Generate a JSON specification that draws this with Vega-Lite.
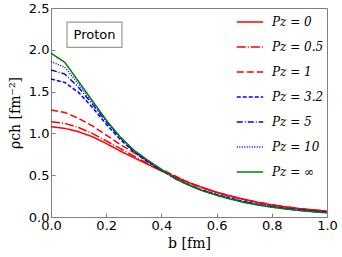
{
  "$schema": "https://vega.github.io/schema/vega-lite/v6.json",
  "width": 276,
  "height": 209,
  "autosize": "none",
  "padding": {"left": 51, "top": 8, "right": 15, "bottom": 40},
  "config": {
    "view": {"stroke": "#808080", "strokeWidth": 1},
    "axis": {"labelFont": "DejaVu Sans", "labelFontSize": 13, "labelColor": "black", "labelFlush": false, "domainColor": "#808080", "tickColor": "#808080", "tickSize": -4, "labelPadding": 6, "grid": false, "titleFont": "DejaVu Serif", "titleFontSize": 14, "titleFontWeight": "normal", "titleColor": "black"},
    "legend": {"labelFont": "DejaVu Serif", "labelFontStyle": "italic", "labelFontSize": 12, "labelColor": "black"}
  },
  "datasets": {
    "curves": [
      {"b":0.0,"v":1.08,"s":"Pz = 0"},{"b":0.05,"v":1.06,"s":"Pz = 0"},{"b":0.1,"v":1.02,"s":"Pz = 0"},{"b":0.15,"v":0.96,"s":"Pz = 0"},{"b":0.2,"v":0.88,"s":"Pz = 0"},{"b":0.25,"v":0.79,"s":"Pz = 0"},{"b":0.3,"v":0.71,"s":"Pz = 0"},{"b":0.35,"v":0.63,"s":"Pz = 0"},{"b":0.4,"v":0.55,"s":"Pz = 0"},{"b":0.45,"v":0.48,"s":"Pz = 0"},{"b":0.5,"v":0.41,"s":"Pz = 0"},{"b":0.55,"v":0.35,"s":"Pz = 0"},{"b":0.6,"v":0.295,"s":"Pz = 0"},{"b":0.65,"v":0.25,"s":"Pz = 0"},{"b":0.7,"v":0.21,"s":"Pz = 0"},{"b":0.75,"v":0.175,"s":"Pz = 0"},{"b":0.8,"v":0.145,"s":"Pz = 0"},{"b":0.85,"v":0.12,"s":"Pz = 0"},{"b":0.9,"v":0.10,"s":"Pz = 0"},{"b":0.95,"v":0.083,"s":"Pz = 0"},{"b":1.0,"v":0.07,"s":"Pz = 0"},
      {"b":0.0,"v":1.14,"s":"Pz = 0.5"},{"b":0.05,"v":1.12,"s":"Pz = 0.5"},{"b":0.1,"v":1.07,"s":"Pz = 0.5"},{"b":0.15,"v":1.0,"s":"Pz = 0.5"},{"b":0.2,"v":0.91,"s":"Pz = 0.5"},{"b":0.25,"v":0.82,"s":"Pz = 0.5"},{"b":0.3,"v":0.73,"s":"Pz = 0.5"},{"b":0.35,"v":0.64,"s":"Pz = 0.5"},{"b":0.4,"v":0.56,"s":"Pz = 0.5"},{"b":0.45,"v":0.48,"s":"Pz = 0.5"},{"b":0.5,"v":0.41,"s":"Pz = 0.5"},{"b":0.55,"v":0.35,"s":"Pz = 0.5"},{"b":0.6,"v":0.295,"s":"Pz = 0.5"},{"b":0.65,"v":0.25,"s":"Pz = 0.5"},{"b":0.7,"v":0.21,"s":"Pz = 0.5"},{"b":0.75,"v":0.175,"s":"Pz = 0.5"},{"b":0.8,"v":0.145,"s":"Pz = 0.5"},{"b":0.85,"v":0.12,"s":"Pz = 0.5"},{"b":0.9,"v":0.10,"s":"Pz = 0.5"},{"b":0.95,"v":0.083,"s":"Pz = 0.5"},{"b":1.0,"v":0.07,"s":"Pz = 0.5"},
      {"b":0.0,"v":1.28,"s":"Pz = 1"},{"b":0.05,"v":1.25,"s":"Pz = 1"},{"b":0.1,"v":1.18,"s":"Pz = 1"},{"b":0.15,"v":1.09,"s":"Pz = 1"},{"b":0.2,"v":0.98,"s":"Pz = 1"},{"b":0.25,"v":0.87,"s":"Pz = 1"},{"b":0.3,"v":0.77,"s":"Pz = 1"},{"b":0.35,"v":0.67,"s":"Pz = 1"},{"b":0.4,"v":0.57,"s":"Pz = 1"},{"b":0.45,"v":0.49,"s":"Pz = 1"},{"b":0.5,"v":0.41,"s":"Pz = 1"},{"b":0.55,"v":0.35,"s":"Pz = 1"},{"b":0.6,"v":0.295,"s":"Pz = 1"},{"b":0.65,"v":0.25,"s":"Pz = 1"},{"b":0.7,"v":0.21,"s":"Pz = 1"},{"b":0.75,"v":0.175,"s":"Pz = 1"},{"b":0.8,"v":0.145,"s":"Pz = 1"},{"b":0.85,"v":0.12,"s":"Pz = 1"},{"b":0.9,"v":0.10,"s":"Pz = 1"},{"b":0.95,"v":0.083,"s":"Pz = 1"},{"b":1.0,"v":0.07,"s":"Pz = 1"},
      {"b":0.0,"v":1.65,"s":"Pz = 3.2"},{"b":0.05,"v":1.61,"s":"Pz = 3.2"},{"b":0.1,"v":1.49,"s":"Pz = 3.2"},{"b":0.15,"v":1.31,"s":"Pz = 3.2"},{"b":0.2,"v":1.11,"s":"Pz = 3.2"},{"b":0.25,"v":0.93,"s":"Pz = 3.2"},{"b":0.3,"v":0.78,"s":"Pz = 3.2"},{"b":0.35,"v":0.66,"s":"Pz = 3.2"},{"b":0.4,"v":0.56,"s":"Pz = 3.2"},{"b":0.45,"v":0.46,"s":"Pz = 3.2"},{"b":0.5,"v":0.385,"s":"Pz = 3.2"},{"b":0.55,"v":0.32,"s":"Pz = 3.2"},{"b":0.6,"v":0.27,"s":"Pz = 3.2"},{"b":0.65,"v":0.225,"s":"Pz = 3.2"},{"b":0.7,"v":0.185,"s":"Pz = 3.2"},{"b":0.75,"v":0.152,"s":"Pz = 3.2"},{"b":0.8,"v":0.125,"s":"Pz = 3.2"},{"b":0.85,"v":0.103,"s":"Pz = 3.2"},{"b":0.9,"v":0.085,"s":"Pz = 3.2"},{"b":0.95,"v":0.07,"s":"Pz = 3.2"},{"b":1.0,"v":0.057,"s":"Pz = 3.2"},
      {"b":0.0,"v":1.76,"s":"Pz = 5"},{"b":0.05,"v":1.71,"s":"Pz = 5"},{"b":0.1,"v":1.55,"s":"Pz = 5"},{"b":0.15,"v":1.35,"s":"Pz = 5"},{"b":0.2,"v":1.14,"s":"Pz = 5"},{"b":0.25,"v":0.95,"s":"Pz = 5"},{"b":0.3,"v":0.79,"s":"Pz = 5"},{"b":0.35,"v":0.67,"s":"Pz = 5"},{"b":0.4,"v":0.565,"s":"Pz = 5"},{"b":0.45,"v":0.46,"s":"Pz = 5"},{"b":0.5,"v":0.383,"s":"Pz = 5"},{"b":0.55,"v":0.318,"s":"Pz = 5"},{"b":0.6,"v":0.265,"s":"Pz = 5"},{"b":0.65,"v":0.22,"s":"Pz = 5"},{"b":0.7,"v":0.18,"s":"Pz = 5"},{"b":0.75,"v":0.148,"s":"Pz = 5"},{"b":0.8,"v":0.122,"s":"Pz = 5"},{"b":0.85,"v":0.1,"s":"Pz = 5"},{"b":0.9,"v":0.082,"s":"Pz = 5"},{"b":0.95,"v":0.067,"s":"Pz = 5"},{"b":1.0,"v":0.054,"s":"Pz = 5"},
      {"b":0.0,"v":1.86,"s":"Pz = 10"},{"b":0.05,"v":1.79,"s":"Pz = 10"},{"b":0.1,"v":1.59,"s":"Pz = 10"},{"b":0.15,"v":1.37,"s":"Pz = 10"},{"b":0.2,"v":1.15,"s":"Pz = 10"},{"b":0.25,"v":0.955,"s":"Pz = 10"},{"b":0.3,"v":0.795,"s":"Pz = 10"},{"b":0.35,"v":0.675,"s":"Pz = 10"},{"b":0.4,"v":0.567,"s":"Pz = 10"},{"b":0.45,"v":0.46,"s":"Pz = 10"},{"b":0.5,"v":0.381,"s":"Pz = 10"},{"b":0.55,"v":0.315,"s":"Pz = 10"},{"b":0.6,"v":0.262,"s":"Pz = 10"},{"b":0.65,"v":0.216,"s":"Pz = 10"},{"b":0.7,"v":0.176,"s":"Pz = 10"},{"b":0.75,"v":0.145,"s":"Pz = 10"},{"b":0.8,"v":0.12,"s":"Pz = 10"},{"b":0.85,"v":0.098,"s":"Pz = 10"},{"b":0.9,"v":0.08,"s":"Pz = 10"},{"b":0.95,"v":0.065,"s":"Pz = 10"},{"b":1.0,"v":0.052,"s":"Pz = 10"},
      {"b":0.0,"v":1.96,"s":"Pz = ∞"},{"b":0.05,"v":1.85,"s":"Pz = ∞"},{"b":0.1,"v":1.62,"s":"Pz = ∞"},{"b":0.15,"v":1.39,"s":"Pz = ∞"},{"b":0.2,"v":1.16,"s":"Pz = ∞"},{"b":0.25,"v":0.96,"s":"Pz = ∞"},{"b":0.3,"v":0.80,"s":"Pz = ∞"},{"b":0.35,"v":0.68,"s":"Pz = ∞"},{"b":0.4,"v":0.57,"s":"Pz = ∞"},{"b":0.45,"v":0.46,"s":"Pz = ∞"},{"b":0.5,"v":0.38,"s":"Pz = ∞"},{"b":0.55,"v":0.313,"s":"Pz = ∞"},{"b":0.6,"v":0.26,"s":"Pz = ∞"},{"b":0.65,"v":0.214,"s":"Pz = ∞"},{"b":0.7,"v":0.174,"s":"Pz = ∞"},{"b":0.75,"v":0.143,"s":"Pz = ∞"},{"b":0.8,"v":0.118,"s":"Pz = ∞"},{"b":0.85,"v":0.096,"s":"Pz = ∞"},{"b":0.9,"v":0.078,"s":"Pz = ∞"},{"b":0.95,"v":0.063,"s":"Pz = ∞"},{"b":1.0,"v":0.05,"s":"Pz = ∞"}
    ],
    "box": [{"x1": 0.058, "x2": 0.257, "y1": 2.03, "y2": 2.33, "xc": 0.1575, "yc": 2.18, "label": "Proton"}]
  },
  "layer": [
    {
      "data": {"name": "box"},
      "mark": {"type": "rect", "fill": "white", "stroke": "#999999", "strokeWidth": 1.2},
      "encoding": {
        "x": {"field": "x1", "type": "quantitative", "scale": {"domain": [0, 1]}},
        "x2": {"field": "x2"},
        "y": {"field": "y1", "type": "quantitative", "scale": {"domain": [0, 2.5]}},
        "y2": {"field": "y2"}
      }
    },
    {
      "data": {"name": "box"},
      "mark": {"type": "text", "font": "DejaVu Sans", "fontSize": 13, "color": "black", "align": "center", "baseline": "middle"},
      "encoding": {
        "x": {"field": "xc", "type": "quantitative"},
        "y": {"field": "yc", "type": "quantitative"},
        "text": {"field": "label"}
      }
    },
    {
      "data": {"name": "curves"},
      "mark": {"type": "line", "clip": true},
      "encoding": {
        "x": {"field": "b", "type": "quantitative", "scale": {"domain": [0, 1], "nice": false}, "axis": {"title": "b [fm]", "values": [0, 0.2, 0.4, 0.6, 0.8, 1.0], "format": ".1f", "titlePadding": 4}},
        "y": {"field": "v", "type": "quantitative", "scale": {"domain": [0, 2.5], "nice": false}, "axis": {"title": "ρch [fm⁻²]", "values": [0, 0.5, 1, 1.5, 2, 2.5], "format": ".1f", "titlePadding": 6}},
        "color": {"field": "s", "type": "nominal", "scale": {"domain": ["Pz = 0", "Pz = 0.5", "Pz = 1", "Pz = 3.2", "Pz = 5", "Pz = 10", "Pz = ∞"], "range": ["#ff0000", "#ff0000", "#ff0000", "#0000ff", "#0000ff", "#0000ff", "#008000"]}, "legend": {"title": null, "orient": "none", "legendX": 185, "legendY": 0, "symbolType": "stroke", "symbolSize": 700, "rowPadding": 5, "labelOffset": 8}},
        "strokeDash": {"field": "s", "type": "nominal", "scale": {"domain": ["Pz = 0", "Pz = 0.5", "Pz = 1", "Pz = 3.2", "Pz = 5", "Pz = 10", "Pz = ∞"], "range": [[1, 0], [9, 2, 1, 2], [7, 3], [4, 2], [6, 2, 1, 2], [1, 1.5], [1, 0]]}},
        "strokeWidth": {"field": "s", "type": "nominal", "scale": {"domain": ["Pz = 0", "Pz = 0.5", "Pz = 1", "Pz = 3.2", "Pz = 5", "Pz = 10", "Pz = ∞"], "range": [1.5, 1.5, 1.5, 1.5, 1.5, 1.5, 2.5]}}
      }
    }
  ]
}
